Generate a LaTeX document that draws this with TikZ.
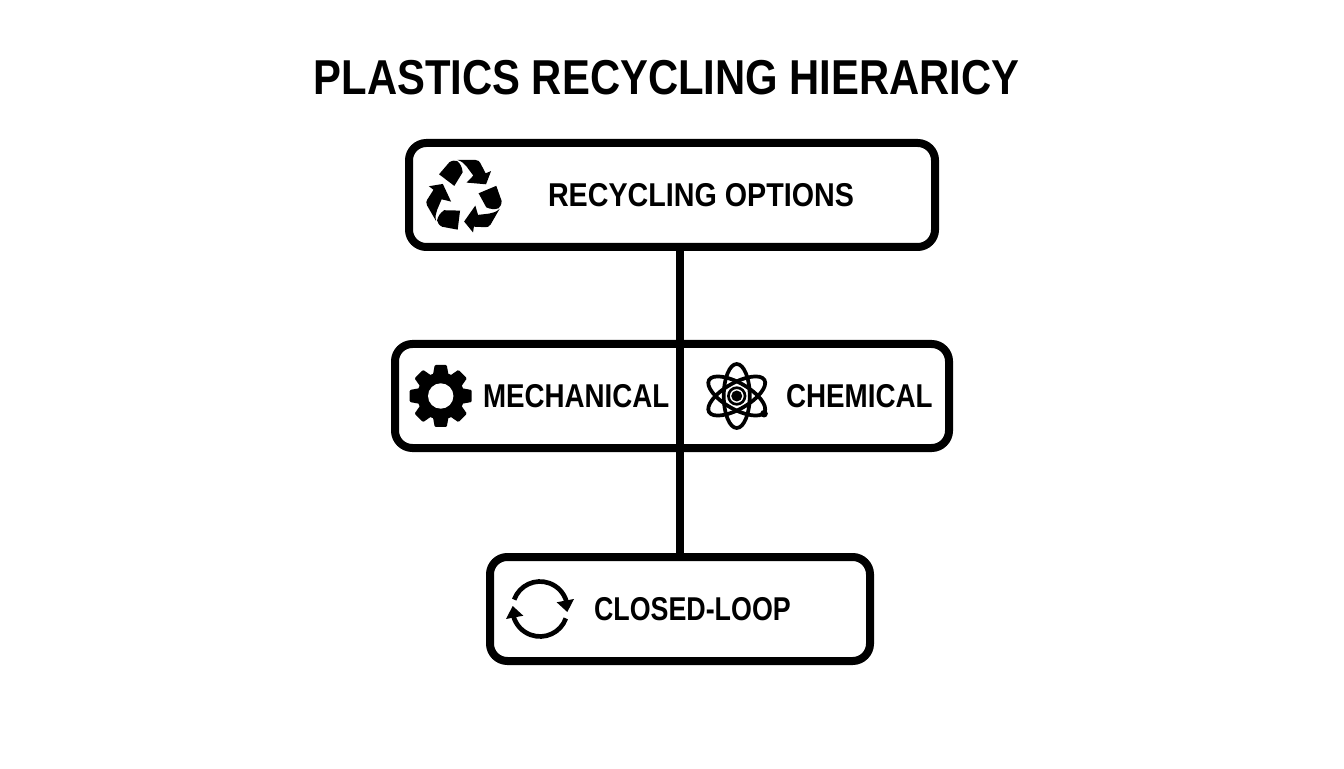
\documentclass[tikz,border=0pt]{standalone}
\usepackage{fontspec}
\setmainfont{Liberation Sans}
\usetikzlibrary{positioning}

\tikzset{
pics/recycleicon/.style={code={
  \foreach \a in {0,120,240} {
    \begin{scope}[y=-.75pt, rotate=\a]
    \fill (-25.3,-22.3) -- (-15,-34.3) .. controls (-12,-36.5) and (-9,-36) .. (-7,-35.5) .. controls (-4,-33) and (-2,-29) .. (-1.7,-24.3) -- (-10,-10.7) -- cycle;
    \fill (-7,-36.7) -- (11,-36.7) .. controls (14,-36.7) and (15,-35) .. (16,-33.5) -- (21.3,-23.3) -- (26.7,-25.5) -- (21.7,-12.3) -- (2.3,-14) -- (9,-21) -- (2.3,-30) .. controls (0,-33) and (-3,-35.5) .. (-7,-36.7) -- cycle;
    \end{scope}
  }
}},
pics/gearicon/.style={code={
  \fill (0,0) circle (23.5);
  \foreach \a in {0,45,...,315} {
    \fill[rotate=\a, rounded corners=.8pt] (-8,20) -- (-6,31) -- (6,31) -- (8,20) -- cycle;
  }
  \fill[white] (0,0) circle (12.7);
}},
pics/atomicon/.style={code={
  \foreach \a in {0,60,120} {
    \draw[line width=2.8pt, rotate=\a] (0,0) ellipse (13 and 32);
  }
  \draw[line width=2pt, fill=white] (0,0) circle (8.3);
  \fill (0,0) circle (5.5);
  \fill (27.3,-17.7) circle (3.8);
}},
pics/cycleicon/.style={code={
  \foreach \a in {0,180} {
    \begin{scope}[y=-.75pt, rotate=\a]
    \draw[line width=3.5pt] (200:27.5) arc (200:345:27.5);
    \fill (27.3,3) -- (16.7,-6.7) -- (34,-10) -- cycle;
    \end{scope}
  }
}}
}

\begin{document}
\begin{tikzpicture}[
x=.75pt, y=.75pt,
optionbox/.style={rectangle, draw=black, line width=6pt, rounded corners=13pt, minimum height=78pt},
boxlabel/.style={inner sep=0pt, outer sep=0pt, anchor=west, font=\fontsize{24.75pt}{28pt}\bfseries\addfontfeature{FakeStretch=#1}},
heading/.style={inner sep=0pt, outer sep=0pt, font=\fontsize{36.75pt}{40pt}\bfseries\addfontfeature{FakeStretch=.853}},
link/.style={draw=black, line width=6pt}]

\useasboundingbox (0,0) rectangle (1344,768);

\node[optionbox, minimum width=394.5pt] (options) at (672,573) {};
\node[heading] (title) [above = 33pt of options.north, xshift=-4pt] {PLASTICS RECYCLING HIERARICY};
\node[optionbox, minimum width=415.5pt] (methods) [below = 66.75pt of options] {};
\node[optionbox, minimum width=285pt] (closedloop) [below = 75.75pt of methods, xshift=6pt] {};

\node[boxlabel=.869] (optionstext) [right = 107.25pt of options.west] {RECYCLING OPTIONS};
\node[boxlabel=.84] (mechtext) [right = 69pt of methods.west] {MECHANICAL};
\node[boxlabel=.842] (chemtext) [right = 296.25pt of methods.west] {CHEMICAL};
\node[boxlabel=.813] (looptext) [right = 81pt of closedloop.west] {CLOSED-LOOP};

\pic at ([xshift=44.5pt, yshift=-1.2pt]options.west) {recycleicon};
\pic at ([xshift=37.3pt]methods.west) {gearicon};
\pic at ([xshift=259.3pt]methods.west) {atomicon};
\pic at ([xshift=40.5pt]closedloop.west) {cycleicon};

\draw[link] (closedloop.north |- options.south) -- (closedloop.north);
\end{tikzpicture}
\end{document}
